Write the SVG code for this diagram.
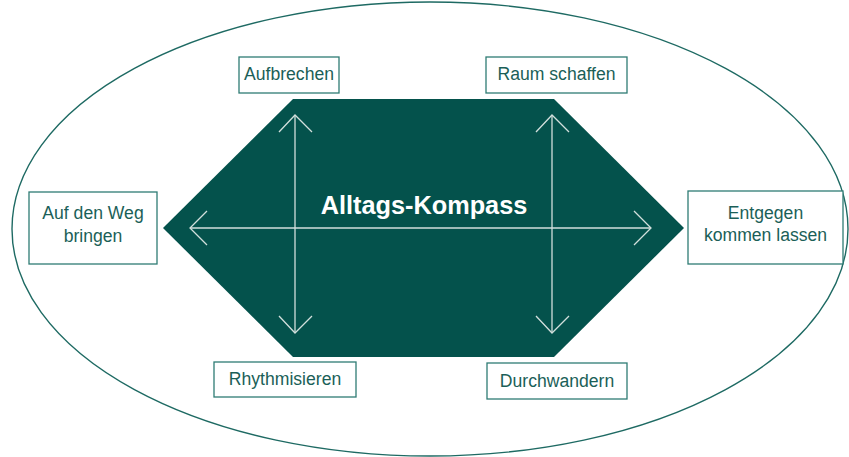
<svg xmlns="http://www.w3.org/2000/svg" width="849" height="457" viewBox="0 0 849 457">
<style>
.box{fill:#fff;stroke:#2e7c74;stroke-width:1.3}
.lbl{font-family:"Liberation Sans",Arial,sans-serif;font-size:17.6px;fill:#1b5f58;text-anchor:middle}
.ax{fill:none;stroke:#d2dfdc;stroke-width:1.3}
</style>
<rect width="849" height="457" fill="#fff"/>
<ellipse cx="430" cy="229" rx="418" ry="227" fill="none" stroke="#1e6a63" stroke-width="1.4"/>
<g id="compass">
<polygon points="293,99 554,99 684,228 554,357 293,357 163,228" fill="#04524c"/>
<text x="424" y="214" font-family="Liberation Sans,Arial,sans-serif" font-size="25.3" font-weight="bold" fill="#fff" text-anchor="middle">Alltags-Kompass</text>
</g>
<g id="connectors">
<line class="ax" x1="190" y1="228" x2="651" y2="228"/>
<line class="ax" x1="295" y1="115" x2="295" y2="333"/>
<line class="ax" x1="552" y1="115" x2="552" y2="333"/>
<polyline class="ax" points="207,211 190,228 207,245"/>
<polyline class="ax" points="634,211 651,228 634,245"/>
<polyline class="ax" points="279,132 295,115 312,132"/>
<polyline class="ax" points="536,132 552,115 569,132"/>
<polyline class="ax" points="279,316 295,333 312,316"/>
<polyline class="ax" points="536,316 552,333 569,316"/>
</g>
<g id="aufbrechen"><rect class="box" x="239" y="57" width="100" height="36"/><text class="lbl" x="289" y="80">Aufbrechen</text></g>
<g id="raum-schaffen"><rect class="box" x="486" y="57" width="141" height="36"/><text class="lbl" x="556.5" y="80">Raum schaffen</text></g>
<g id="auf-den-weg"><rect class="box" x="29" y="192" width="128" height="72"/><text class="lbl" x="93" y="219">Auf den Weg</text><text class="lbl" x="93" y="242">bringen</text></g>
<g id="entgegen"><rect class="box" x="688" y="191" width="155" height="73"/><text class="lbl" x="765.5" y="219">Entgegen</text><text class="lbl" x="765.5" y="241">kommen lassen</text></g>
<g id="rhythmisieren"><rect class="box" x="214" y="362" width="142" height="35"/><text class="lbl" x="285" y="385">Rhythmisieren</text></g>
<g id="durchwandern"><rect class="box" x="487" y="363" width="140" height="36"/><text class="lbl" x="557" y="387">Durchwandern</text></g>
</svg>
